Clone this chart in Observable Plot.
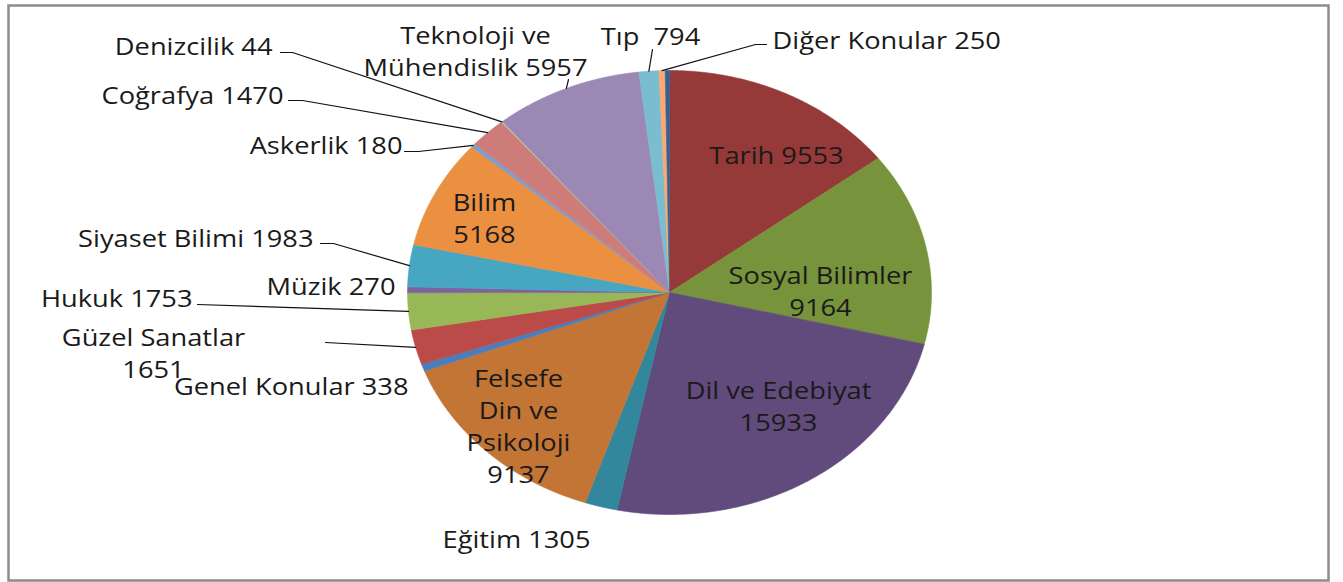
<!DOCTYPE html>
<html><head><meta charset="utf-8">
<script src="https://cdn.jsdelivr.net/npm/d3@7"></script>
<script src="https://cdn.jsdelivr.net/npm/@observablehq/plot@0.6"></script>
<style>
body{margin:0;background:#fff}
#chart svg{display:block}
</style>
</head><body><div id="chart"></div>
<script>
// ---- data ----
const categories = ["Tarih","Sosyal Bilimler","Dil ve Edebiyat","Eğitim","Felsefe Din ve Psikoloji","Genel Konular","Güzel Sanatlar","Hukuk","Müzik","Siyaset Bilimi","Bilim","Askerlik","Coğrafya","Denizcilik","Teknoloji ve Mühendislik","Tıp","Diğer Konular",""];
const values = [9553,9164,15933,1305,9137,338,1651,1753,270,1983,5168,180,1470,44,5957,794,250,170];
const colors = ["#953A39","#77933C","#614A7C","#33879C","#C27535","#4A7DBE","#BB4B48","#98B857","#7E62A0","#47A6C0","#EA9040","#7E9DCC","#CD7C79","#B9CD96","#9B88B4","#7ABCD0","#F9A971","#376092"];

// ---- layout (pixel space; x/y scales are identity over the frame) ----
const pie = {cx: 669, cy: 292, rx: 262, ry: 222};
const labelLayout = [
  {tpl: "Tarih {v}", x: 776, y: 153, anchor: "middle"},
  {tpl: "Sosyal Bilimler\n{v}", x: 820, y: 289, anchor: "middle"},
  {tpl: "Dil ve Edebiyat\n{v}", x: 778, y: 404, anchor: "middle"},
  {tpl: "Eğitim {v}", x: 516, y: 537, anchor: "middle"},
  {tpl: "Felsefe\nDin ve\nPsikoloji\n{v}", x: 518, y: 424, anchor: "middle"},
  {tpl: "Genel Konular {v}", x: 408, y: 384, anchor: "end"},
  {tpl: "Güzel Sanatlar\n{v}", x: 153, y: 351, anchor: "middle", leader: [[325, 342]]},
  {tpl: "Hukuk {v}", x: 192, y: 296, anchor: "end", leader: [[197, 304]]},
  {tpl: "Müzik {v}", x: 395, y: 284, anchor: "end"},
  {tpl: "Siyaset Bilimi {v}", x: 313, y: 236, anchor: "end", leader: [[320, 243], [333, 243]]},
  {tpl: "Bilim\n{v}", x: 484, y: 216, anchor: "middle"},
  {tpl: "Askerlik {v}", x: 402, y: 143, anchor: "end", leader: [[404, 151], [418, 151]]},
  {tpl: "Coğrafya {v}", x: 283, y: 93, anchor: "end", leader: [[288, 100], [302, 100]]},
  {tpl: "Denizcilik {v}", x: 272, y: 44, anchor: "end", leader: [[280, 52], [292, 52]]},
  {tpl: "Teknoloji ve\nMühendislik {v}", x: 475, y: 49, anchor: "middle", leader: [[568, 79]]},
  {tpl: "Tıp  {v}", x: 650, y: 34, anchor: "middle", leader: [[652, 49]]},
  {tpl: "Diğer Konular {v}", x: 772, y: 38, anchor: "start", leader: [[766, 44], [755, 44]]},
  null
];

// ---- geometry from values ----
const total = d3.sum(values);
const ept = a => [pie.cx + pie.rx * Math.sin(a), pie.cy - pie.ry * Math.cos(a)];
let acc = 0;
const slices = values.map((v, i) => {
  const a0 = acc / total * 2 * Math.PI;
  acc += v;
  const a1 = acc / total * 2 * Math.PI;
  const n = Math.max(2, Math.ceil((a1 - a0) / 0.004));
  const pts = [[pie.cx, pie.cy]];
  for (let k = 0; k <= n; k++) pts.push(ept(a0 + (a1 - a0) * k / n));
  pts.push([pie.cx, pie.cy]);
  return {i, a0, a1, mid: (a0 + a1) / 2, pts};
});

const labels = [];
const leaders = [];
labelLayout.forEach((L, i) => {
  if (!L) return;
  labels.push({x: L.x, y: L.y, anchor: L.anchor, text: L.tpl.replace("{v}", values[i])});
  if (L.leader) {
    const pts = [...L.leader, ept(slices[i].mid)];
    pts.forEach(p => leaders.push({id: i, x: p[0], y: p[1]}));
  }
});

const sliceMarks = slices.map(s =>
  Plot.line(s.pts, {x: d => d[0], y: d => d[1], fill: colors[s.i], stroke: colors[s.i], strokeWidth: 0.6, curve: "linear"})
);
const textOpts = {x: "x", y: "y", text: "text", fontSize: 23.5, lineHeight: 1.37, fill: "#1a1a1a", fontFamily: "'Open Sans', sans-serif"};

const chart = Plot.plot({
  width: 1343, height: 582,
  marginLeft: 8, marginRight: 15, marginTop: 5, marginBottom: 2,
  x: {domain: [8, 1328], axis: null},
  y: {domain: [580, 5], axis: null},
  marks: [
    ...sliceMarks,
    Plot.line(leaders, {x: "x", y: "y", z: "id", stroke: "#111", strokeWidth: 1.2, curve: "linear"}),
    Plot.text(labels.filter(d => d.anchor === "middle"), {...textOpts, textAnchor: "middle"}),
    Plot.text(labels.filter(d => d.anchor === "end"), {...textOpts, textAnchor: "end"}),
    Plot.text(labels.filter(d => d.anchor === "start"), {...textOpts, textAnchor: "start"}),
    Plot.frame({stroke: "#8c8c8c", strokeWidth: 2.5})
  ]
});

// horizontal stretch of the labels, as in the reference image
const SX = 1.16;
chart.querySelectorAll("text").forEach(el => {
  const t = el.getAttribute("transform");
  if (t && t.includes("translate")) {
    el.setAttribute("transform", t + ` scale(${SX},1)`);
  } else {
    const x = +el.getAttribute("x") || 0, y = +el.getAttribute("y") || 0;
    el.setAttribute("transform", `translate(${x},${y}) scale(${SX},1) translate(${-x},${-y})`);
  }
});
document.getElementById("chart").appendChild(chart);
</script>
</body></html>
